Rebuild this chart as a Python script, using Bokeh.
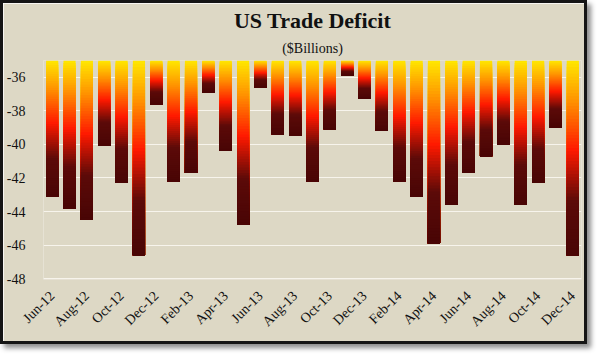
import math
from bokeh.plotting import figure
from bokeh.models import Range1d, FixedTicker, Title
from bokeh.embed import file_html
from bokeh.resources import INLINE

months = ["Jun-12", "Jul-12", "Aug-12", "Sep-12", "Oct-12", "Nov-12", "Dec-12",
          "Jan-13", "Feb-13", "Mar-13", "Apr-13", "May-13", "Jun-13", "Jul-13",
          "Aug-13", "Sep-13", "Oct-13", "Nov-13", "Dec-13", "Jan-14", "Feb-14",
          "Mar-14", "Apr-14", "May-14", "Jun-14", "Jul-14", "Aug-14", "Sep-14",
          "Oct-14", "Nov-14", "Dec-14"]
deficit = [-43.1, -43.8, -44.5, -40.1, -42.3, -46.6, -37.6, -42.2, -41.7, -36.9,
           -40.4, -44.8, -36.6, -39.4, -39.5, -42.2, -39.1, -35.9, -37.3, -39.2,
           -42.2, -43.1, -45.9, -43.6, -41.7, -40.7, -40.0, -43.6, -42.3, -39.0,
           -46.6]
y_ticks = [-36, -38, -40, -42, -44, -46, -48]
baseline = -35
y_min = -48

BG = "#DDD8C5"
FONT = "Liberation Serif"

stops = [(0.0, (255, 232, 0)), (0.2, (255, 150, 0)), (0.46, (255, 25, 0)),
         (0.72, (92, 10, 8)), (1.0, (72, 5, 5))]


def grad(t):
    for (t0, c0), (t1, c1) in zip(stops[:-1], stops[1:]):
        if t <= t1:
            f = (t - t0) / (t1 - t0) if t1 > t0 else 0
            return "#%02x%02x%02x" % tuple(int(round(a + (b - a) * f)) for a, b in zip(c0, c1))
    return "#%02x%02x%02x" % stops[-1][1]


# each bar is painted as a stack of overlapping slices, top slice first;
# every slice reaches down to the bar's end, so no seams show
N = 60
bw = 0.7
left, right, top, bottom, colors = [], [], [], [], []
for k in range(N):
    for i, v in enumerate(deficit):
        span = v - baseline
        left.append(i - bw / 2)
        right.append(i + bw / 2)
        top.append(baseline + span * k / N)
        bottom.append(v)
        colors.append(grad((k + 0.5) / N))

p = figure(width=587, height=344, output_backend="svg", toolbar_location=None,
           x_range=Range1d(-0.5, len(months) - 0.5), y_range=Range1d(y_min - 0.05, baseline),
           background_fill_color=BG, border_fill_color=BG,
           min_border_left=36, min_border_right=9, min_border_bottom=68, min_border_top=0)
p.styles = {"border": "3px solid #151515", "box-shadow": "4px 4px 5px rgba(0,0,0,0.45)"}
p.outline_line_color = None

p.add_layout(Title(text="($Billions)", align="center", text_font=FONT, standoff=9,
                   text_font_size="14px", text_font_style="normal", text_color="#111111"), "above")
p.add_layout(Title(text="US Trade Deficit", align="center", text_font=FONT, standoff=4,
                   text_font_size="22px", text_font_style="bold", text_color="#111111"), "above")

p.quad(left=left, right=right, top=top, bottom=bottom, fill_color=colors, line_color=None)

p.yaxis.ticker = FixedTicker(ticks=y_ticks)
p.yaxis.major_label_overrides = {t: str(t) for t in y_ticks}
p.xaxis.ticker = FixedTicker(ticks=list(range(0, len(months), 2)))
p.xaxis.major_label_overrides = {i: months[i] for i in range(0, len(months), 2)}
p.xaxis.major_label_orientation = math.pi / 4

for ax in (p.xaxis, p.yaxis):
    ax.axis_line_color = None
    ax.major_tick_line_color = None
    ax.minor_tick_line_color = None
    ax.major_label_text_font = FONT
    ax.major_label_text_font_size = "14px"
    ax.major_label_text_color = "#111111"
p.yaxis.major_label_standoff = 12
p.xaxis.major_label_standoff = 8

p.xgrid.grid_line_color = None
p.ygrid.grid_line_color = "#F7F4EC"
p.ygrid.grid_line_width = 1.2

open("out.html", "w").write(file_html(p, INLINE))
